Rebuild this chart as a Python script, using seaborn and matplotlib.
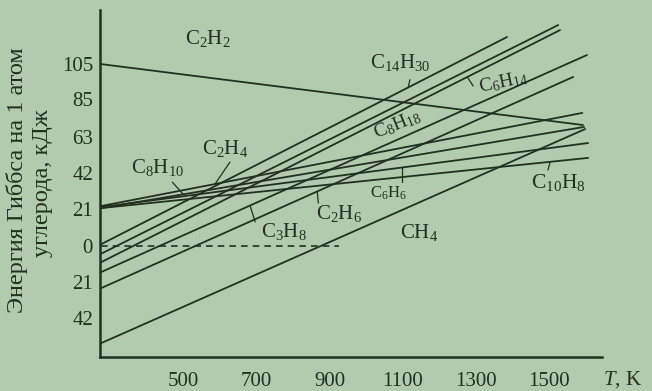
import re
import numpy as np
import pandas as pd
import matplotlib
matplotlib.use("Agg")
import matplotlib.pyplot as plt
import seaborn as sns

# Gibbs energy of formation per carbon atom, kJ, as straight lines in T
compounds = ["C2H2", "C14H30", "C8H18", "C6H14", "C3H8", "C2H6",
             "CH4", "C2H4", "C8H10", "C6H6", "C10H8"]
t_start = [275, 275, 275, 275, 275, 275, 275, 275, 275, 275, 275]
g_start = [105.0, 1.0, -4.5, -9.4, -15.1, -24.4, -56.2, 23.0, 21.8, 22.4, 21.8]
t_end = [1594, 1386, 1526, 1531, 1605, 1567, 1600, 1592, 1597, 1608, 1608]
g_end = [69.8, 120.7, 127.6, 124.7, 110.3, 97.6, 67.5, 76.8, 68.7, 59.4, 50.8]

zero_T = [275, 925]
zero_G = [0, 0]

x_ticks = [500, 700, 900, 1100, 1300, 1500]
y_ticks = [105, 85, 63, 42, 21, 0, -21, -42]
y_tick_labels = ["105", "85", "63", "42", "21", "0", "21", "42"]

BG = "#b2cbae"
INK = "#223022"

sns.set_theme(style="white")
plt.rcParams["font.family"] = ["Liberation Serif", "DejaVu Serif"]
plt.rcParams["mathtext.fontset"] = "custom"
plt.rcParams["mathtext.rm"] = "Liberation Serif"
plt.rcParams["mathtext.it"] = "Liberation Serif:italic"

rows = []
for name, t0, g0, t1, g1 in zip(compounds, t_start, g_start, t_end, g_end):
    rows.append({"compound": name, "T": t0, "G": g0})
    rows.append({"compound": name, "T": t1, "G": g1})
df = pd.DataFrame(rows)

fig = plt.figure(figsize=(6.52, 3.91), dpi=100, facecolor=BG)
ax = fig.add_axes([0.1534, 0.0870, 0.7699, 0.8874])
ax.set_facecolor(BG)

sns.lineplot(data=df, x="T", y="G", hue="compound",
             palette={c: INK for c in compounds}, legend=False,
             estimator=None, sort=False, linewidth=1.3, ax=ax)
ax.plot(zero_T, zero_G, color=INK, lw=1.2, ls=(0, (4, 3)))

ax.set_xlim(271, 1646)
ax.set_ylim(-64.3, 136.3)

for side in ["top", "right"]:
    ax.spines[side].set_visible(False)
for side in ["left", "bottom"]:
    ax.spines[side].set_color(INK)
    ax.spines[side].set_linewidth(1.8)

ax.set_xticks(x_ticks)
ax.set_xticklabels([str(t) for t in x_ticks])
ax.set_yticks(y_ticks)
ax.set_yticklabels(y_tick_labels)
ax.tick_params(axis="x", direction="in", length=4, width=1.2, color=INK,
               labelsize=15, labelcolor=INK, pad=11)
ax.tick_params(axis="y", direction="out", length=3, width=1.2, color=INK,
               labelsize=15, labelcolor=INK, pad=2)
ax.set_xlabel("")
ax.set_ylabel("")


def chem(name):
    return re.sub(r"(\d+)", r"$_{\1}$", name)


# label placement: text centre (T, G), rotation, size, leader start and tip T
layout = {
    "C2H2": dict(xy=(565, 120), rot=0, size=15),
    "C14H30": dict(xy=(1093, 106), rot=0, size=15, lead=((1120, 96), 1115)),
    "C6H14": dict(xy=(1375, 94.7), rot=12, size=14, lead=((1293, 92.4), 1277)),
    "C8H18": dict(xy=(1085, 69.8), rot=22, size=14),
    "C2H4": dict(xy=(614, 56.5), rot=0, size=15, lead=((627, 48.4), 586)),
    "C8H10": dict(xy=(428, 45.5), rot=0, size=15, lead=((469, 36.8), 499)),
    "C6H6": dict(xy=(1060, 30.5), rot=0, size=12, lead=((1099, 36.9), 1099)),
    "C3H8": dict(xy=(775, 8.0), rot=0, size=15, lead=((696, 13.8), 682)),
    "C2H6": dict(xy=(926, 18.4), rot=0, size=15, lead=((869, 24.7), 866)),
    "CH4": dict(xy=(1145, 7.4), rot=0, size=15),
    "C10H8": dict(xy=(1526, 36.3), rot=0, size=15.5, lead=((1498, 43.8), 1504)),
}

for i, name in enumerate(compounds):
    spec = layout[name]
    ax.text(*spec["xy"], chem(name), ha="center", va="center",
            rotation=spec["rot"], fontsize=spec["size"], color=INK)
    if "lead" in spec:
        (lx, ly), tip = spec["lead"]
        tip_g = np.interp(tip, [t_start[i], t_end[i]], [g_start[i], g_end[i]])
        ax.plot([lx, tip], [ly, tip_g], color=INK, lw=0.9)

fig.text(17 / 652, 1 - 180 / 391, "Энергия Гиббса на 1 атом", rotation=90,
         ha="center", va="center", fontsize=17.5, color=INK)
fig.text(43 / 652, 1 - 183 / 391, "углерода, кДж", rotation=90,
         ha="center", va="center", fontsize=17.5, color=INK)
fig.text(603 / 652, 1 - 380 / 391, "$T$, K", ha="left", va="center",
         fontsize=15, color=INK)

fig.savefig("out.png", dpi=100, facecolor=BG)
